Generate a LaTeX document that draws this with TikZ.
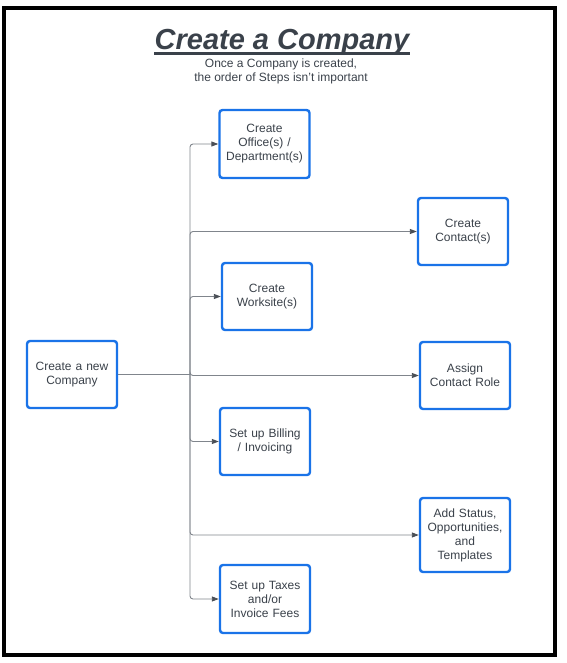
\documentclass[tikz,border=0pt]{standalone}
\usepackage{fontspec}
\setmainfont{Liberation Sans}
\usetikzlibrary{arrows.meta,calc}
\definecolor{boxblue}{HTML}{1A73E8}
\definecolor{txt}{HTML}{3A414A}
\definecolor{conn}{HTML}{80858C}
\definecolor{tipc}{HTML}{4A4F56}
\begin{document}
\begin{tikzpicture}[x=1pt,y=-1pt,
  stepbox/.style={draw=boxblue,line width=2.4pt,rounded corners=3pt,fill=white,
    text=txt,minimum width=90pt,minimum height=67pt,inner sep=2pt,
    text width=86pt,align=center,font=\fontsize{12}{14}\selectfont},
  link/.style={draw=conn,line width=0.9pt,rounded corners=3pt,
    -{Triangle[length=7pt,width=5pt,fill=tipc,color=tipc]}}]
\useasboundingbox (0,0) rectangle (566,663);
\draw[line width=4pt] (4,8) rectangle (555,655);
% title
\node[inner sep=0pt,anchor=base,text=txt,font=\fontsize{29}{34}\selectfont\bfseries\itshape] (title) at (282,50) {Create a Company};
\draw[txt,line width=2.6pt] ($(title.base west)+(0,3.5)$) -- ($(title.base east)+(0,3.5)$);
\node[inner sep=0pt,anchor=base,text=txt,font=\fontsize{12}{14}\selectfont] (sub1) at (281,68) {Once a Company is created,};
\node[inner sep=0pt,anchor=base,text=txt,font=\fontsize{12}{14}\selectfont] (sub2) at (281,82) {the order of Steps isn't important};
% boxes
\node[stepbox] (comp) at (72,374.5) {Create a new Company};
\node[stepbox,minimum height=68pt] (office) at (264.5,144) {Create\\Office(s) /\\Department(s)};
\node[stepbox] (contact) at (463,231.5) {Create\\Contact(s)};
\node[stepbox] (worksite) at (267,296.5) {Create\\Worksite(s)};
\node[stepbox] (assign) at (465,375.5) {Assign\\Contact Role};
\node[stepbox] (billing) at (265,441.5) {Set up Billing\\/ Invoicing};
\node[stepbox,minimum height=74pt] (status) at (465,535) {Add Status,\\Opportunities,\\and\\Templates};
\node[stepbox,minimum height=68pt] (taxes) at (265,599) {Set up Taxes\\and/or\\Invoice Fees};
% connectors
\coordinate (j) at (190,374.5);
\draw[draw=conn,line width=0.9pt] (comp.east) -- (j);
\draw[link] (j) |- (office.west);
\draw[link] (j) |- (contact.west);
\draw[link] (j) |- (worksite.west);
\draw[link] (j) |- (assign.west);
\draw[link] (j) |- (billing.west);
\draw[link] (j) |- (status.west);
\draw[link] (j) |- (taxes.west);
\end{tikzpicture}
\end{document}
